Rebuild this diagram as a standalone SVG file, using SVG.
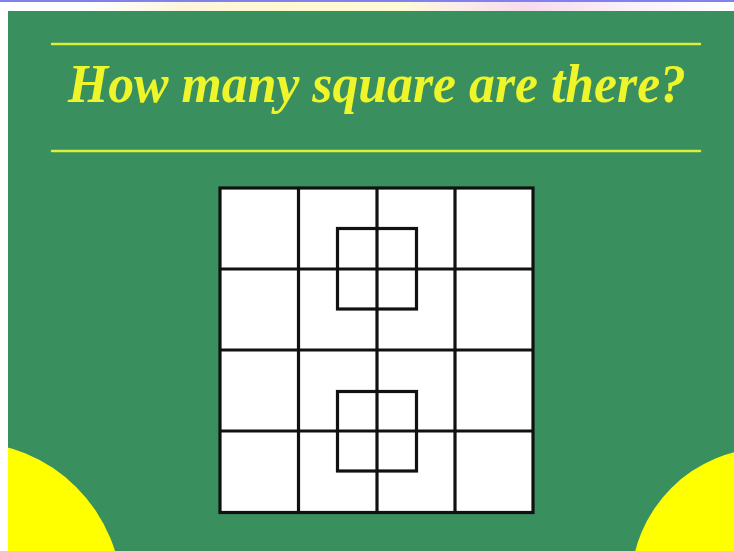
<svg xmlns="http://www.w3.org/2000/svg" width="734" height="551" viewBox="0 0 734 551">
  <defs>
    <linearGradient id="strip" x1="0" y1="0" x2="1" y2="0">
      <stop offset="0" stop-color="#ffffff"/>
      <stop offset="0.12" stop-color="#ffffff"/>
      <stop offset="0.25" stop-color="#fdf6dc"/>
      <stop offset="0.4" stop-color="#fffad0"/>
      <stop offset="0.55" stop-color="#fffbd6"/>
      <stop offset="0.62" stop-color="#fbeee8"/>
      <stop offset="0.72" stop-color="#f6dcec"/>
      <stop offset="0.85" stop-color="#faf0fa"/>
      <stop offset="1" stop-color="#ffffff"/>
    </linearGradient>
    <style>
      .rule { stroke: #d8f03a; stroke-width: 2.5; stroke-linecap: round; }
      .title { font-family: "Liberation Serif", "DejaVu Serif", serif; font-style: italic; font-weight: bold; fill: #eef52a; }
      .cell { fill: #ffffff; }
      .ln { stroke: #111111; stroke-width: 3.2; fill: none; }
      .sun { fill: #ffff00; }
    </style>
  </defs>

  <!-- background -->
  <rect x="0" y="0" width="734" height="551" fill="#ffffff"/>
  <rect x="0" y="0" width="734" height="12" fill="url(#strip)"/>
  <rect x="0" y="0" width="734" height="2" fill="#8080ee"/>
  <rect x="8" y="11" width="726" height="540" fill="#398f5e"/>

  <!-- yellow corner circles -->
  <g id="circle-left"><circle class="sun" cx="-33" cy="597" r="155"/></g>
  <g id="circle-right"><circle class="sun" cx="768" cy="585" r="137"/></g>
  <rect x="0" y="11" width="8" height="540" fill="#ffffff"/>

  <!-- title -->
  <g id="title">
    <line class="rule" x1="52" y1="44" x2="700" y2="44"/>
    <text class="title" x="377" y="102" font-size="54" text-anchor="middle" textLength="618" lengthAdjust="spacingAndGlyphs">How many square are there?</text>
    <line class="rule" x1="52" y1="151" x2="700" y2="151"/>
  </g>

  <!-- grid -->
  <g id="grid">
    <rect class="cell" x="220" y="188" width="313" height="324.5"/>
    <rect class="ln" x="220" y="188" width="313" height="324.5"/>
    <line class="ln" x1="298.5" y1="188" x2="298.5" y2="512.5"/>
    <line class="ln" x1="377" y1="188" x2="377" y2="512.5"/>
    <line class="ln" x1="455" y1="188" x2="455" y2="512.5"/>
    <line class="ln" x1="220" y1="269" x2="533" y2="269"/>
    <line class="ln" x1="220" y1="350" x2="533" y2="350"/>
    <line class="ln" x1="220" y1="431" x2="533" y2="431"/>
  </g>
  <g id="inner-top"><rect class="ln" x="337.5" y="228.5" width="79" height="80.5"/></g>
  <g id="inner-bottom"><rect class="ln" x="337.5" y="391.5" width="79" height="79.5"/></g>
</svg>
